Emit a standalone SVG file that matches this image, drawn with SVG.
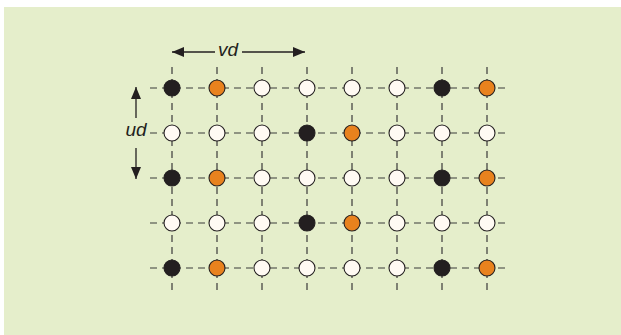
<svg xmlns="http://www.w3.org/2000/svg" width="621" height="335" viewBox="0 0 621 335">
<style>
.g{stroke:#3a3a3a;stroke-width:1.2;stroke-dasharray:7 5;fill:none}
.n circle{r:8;stroke:#231f20;stroke-width:1.1}
.b{fill:#231f20}
.o{fill:#e8821e}
.w{fill:#fffaf3}
.a{stroke:#231f20;stroke-width:1.3;fill:none}
.t{font-family:"Liberation Sans",Arial,sans-serif;font-style:italic;font-size:19px;fill:#231f20}
</style>
<defs>
<marker id="ah" viewBox="0 0 12 10" refX="12" refY="5" markerWidth="12" markerHeight="10" markerUnits="userSpaceOnUse" orient="auto">
<path d="M0,0 L12,5 L0,10 Z" fill="#231f20"/>
</marker>
</defs>
<rect x="4" y="7" width="617" height="328" fill="#e5eecb"/>
<g id="connectors">
<line class="g" x1="150" y1="88" x2="509" y2="88"/>
<line class="g" x1="150" y1="133" x2="509" y2="133"/>
<line class="g" x1="150" y1="178" x2="509" y2="178"/>
<line class="g" x1="150" y1="223" x2="509" y2="223"/>
<line class="g" x1="150" y1="268" x2="509" y2="268"/>
<line class="g" x1="172" y1="67" x2="172" y2="291"/>
<line class="g" x1="217" y1="67" x2="217" y2="291"/>
<line class="g" x1="262" y1="67" x2="262" y2="291"/>
<line class="g" x1="307" y1="67" x2="307" y2="291"/>
<line class="g" x1="352" y1="67" x2="352" y2="291"/>
<line class="g" x1="397" y1="67" x2="397" y2="291"/>
<line class="g" x1="442" y1="67" x2="442" y2="291"/>
<line class="g" x1="487" y1="67" x2="487" y2="291"/>
<line class="a" x1="215" y1="52" x2="172" y2="52" marker-end="url(#ah)"/>
<line class="a" x1="242" y1="52" x2="305" y2="52" marker-end="url(#ah)"/>
<line class="a" x1="136" y1="118" x2="136" y2="87" marker-end="url(#ah)"/>
<line class="a" x1="136" y1="148" x2="136" y2="179" marker-end="url(#ah)"/>
</g>
<g id="labels">
<text class="t" x="228" y="56" text-anchor="middle">vd</text>
<text class="t" x="136" y="136" text-anchor="middle">ud</text>
</g>
<g id="row1" class="n">
<circle class="b" cx="172" cy="88" r="8"/><circle class="o" cx="217" cy="88" r="8"/><circle class="w" cx="262" cy="88" r="8"/><circle class="w" cx="307" cy="88" r="8"/><circle class="w" cx="352" cy="88" r="8"/><circle class="w" cx="397" cy="88" r="8"/><circle class="b" cx="442" cy="88" r="8"/><circle class="o" cx="487" cy="88" r="8"/>
</g>
<g id="row2" class="n">
<circle class="w" cx="172" cy="133" r="8"/><circle class="w" cx="217" cy="133" r="8"/><circle class="w" cx="262" cy="133" r="8"/><circle class="b" cx="307" cy="133" r="8"/><circle class="o" cx="352" cy="133" r="8"/><circle class="w" cx="397" cy="133" r="8"/><circle class="w" cx="442" cy="133" r="8"/><circle class="w" cx="487" cy="133" r="8"/>
</g>
<g id="row3" class="n">
<circle class="b" cx="172" cy="178" r="8"/><circle class="o" cx="217" cy="178" r="8"/><circle class="w" cx="262" cy="178" r="8"/><circle class="w" cx="307" cy="178" r="8"/><circle class="w" cx="352" cy="178" r="8"/><circle class="w" cx="397" cy="178" r="8"/><circle class="b" cx="442" cy="178" r="8"/><circle class="o" cx="487" cy="178" r="8"/>
</g>
<g id="row4" class="n">
<circle class="w" cx="172" cy="223" r="8"/><circle class="w" cx="217" cy="223" r="8"/><circle class="w" cx="262" cy="223" r="8"/><circle class="b" cx="307" cy="223" r="8"/><circle class="o" cx="352" cy="223" r="8"/><circle class="w" cx="397" cy="223" r="8"/><circle class="w" cx="442" cy="223" r="8"/><circle class="w" cx="487" cy="223" r="8"/>
</g>
<g id="row5" class="n">
<circle class="b" cx="172" cy="268" r="8"/><circle class="o" cx="217" cy="268" r="8"/><circle class="w" cx="262" cy="268" r="8"/><circle class="w" cx="307" cy="268" r="8"/><circle class="w" cx="352" cy="268" r="8"/><circle class="w" cx="397" cy="268" r="8"/><circle class="b" cx="442" cy="268" r="8"/><circle class="o" cx="487" cy="268" r="8"/>
</g>
</svg>
